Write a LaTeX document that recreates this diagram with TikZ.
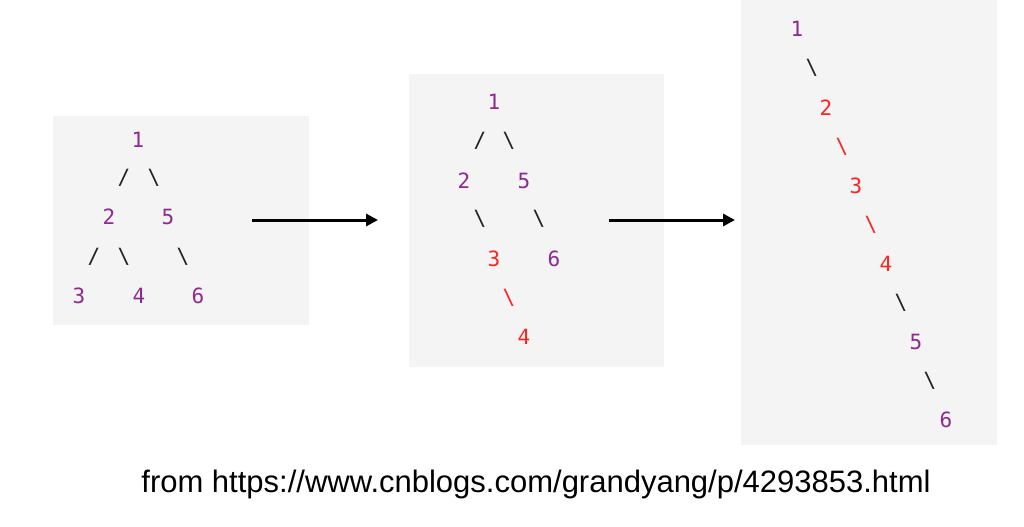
\documentclass[tikz,border=0pt]{standalone}
\usepackage{fontspec}
\setmainfont{Liberation Sans}
\setmonofont{DejaVu Sans Mono}
\usetikzlibrary{arrows.meta, positioning}

\definecolor{boxgray}{HTML}{F4F4F4}
\definecolor{keypurple}{HTML}{8E2A8E}
\definecolor{keyred}{HTML}{FF2424}
\definecolor{linkgray}{HTML}{222222}

\newcommand{\fsl}{/}
\newcommand{\bsl}{\char92}

\tikzset{
    treebox/.style = {fill = boxgray, draw = none, inner sep = 0pt},
    keychar/.style = {font = \ttfamily\fontsize{10.5}{12}\selectfont, inner sep = 0pt},
    flow/.style = {line width = 1.5pt, -{Triangle[length = 6pt, width = 6pt]}},
}

\begin{document}
\begin{tikzpicture}[x = 0.5pt, y = -0.5pt]

    \useasboundingbox (0,0) rectangle (1024,526);

    % the three grey panels
    \node[treebox, minimum width = 128pt, minimum height = 104.5pt] (boxA) at (181,220.5) {};
    \node[treebox, minimum width = 127.5pt, minimum height = 146.5pt] (boxB) at (536.5,220.5) {};
    \node[treebox, minimum width = 128pt, minimum height = 222.5pt] (boxC) at (869,222.5) {};

    % keys
    \foreach \NAME/\PX/\PY/\TXT/\COL in {
        A1/138/140/1/keypurple, A2/109/217/2/keypurple, A5/168/217/5/keypurple,
        A3/79/296/3/keypurple, A4/139/296/4/keypurple, A6/198/296/6/keypurple,
        B1/494/102/1/keypurple, B2/464/181/2/keypurple, B5/524/181/5/keypurple,
        B3/494/259/3/keyred, B6/554/259/6/keypurple, B4/524/337/4/keyred,
        C1/797/29/1/keypurple, C2/826/108/2/keyred, C3/856/186/3/keyred,
        C4/886/264/4/keyred, C5/916/342/5/keypurple, C6/946/420/6/keypurple}
        {\node[keychar, text = \COL] (\NAME) at (\PX,\PY) {\TXT};}

    % links, typed as slashes
    \foreach \NAME/\PX/\PY/\TXT/\COL in {
        A12/124/178/\fsl/linkgray, A15/154/178/\bsl/linkgray,
        A23/94/257/\fsl/linkgray, A24/124/257/\bsl/linkgray, A56/183/257/\bsl/linkgray,
        B12/480/141/\fsl/linkgray, B15/509/141/\bsl/linkgray,
        B23/480/219/\bsl/linkgray, B56/539/219/\bsl/linkgray, B34/509/298/\bsl/keyred,
        C12/812/68/\bsl/linkgray, C23/842/147/\bsl/keyred, C34/871/225/\bsl/keyred,
        C45/901/303/\bsl/linkgray, C56/930/381/\bsl/linkgray}
        {\node[keychar, text = \COL] (\NAME) at (\PX,\PY) {\TXT};}

    % arrows between the panels
    \coordinate (flowAs) at (252,220);
    \coordinate (flowAe) at (378,220);
    \coordinate (flowBs) at (609,220);
    \coordinate (flowBe) at (735,220);
    \draw[flow] (flowAs) -- (flowAe);
    \draw[flow] (flowBs) -- (flowBe);

    \node[font = \fontsize{15.5}{17}\selectfont, inner sep = 0pt] (source) at (536,484)
        {from https://www.cnblogs.com/grandyang/p/4293853.html};

\end{tikzpicture}
\end{document}
